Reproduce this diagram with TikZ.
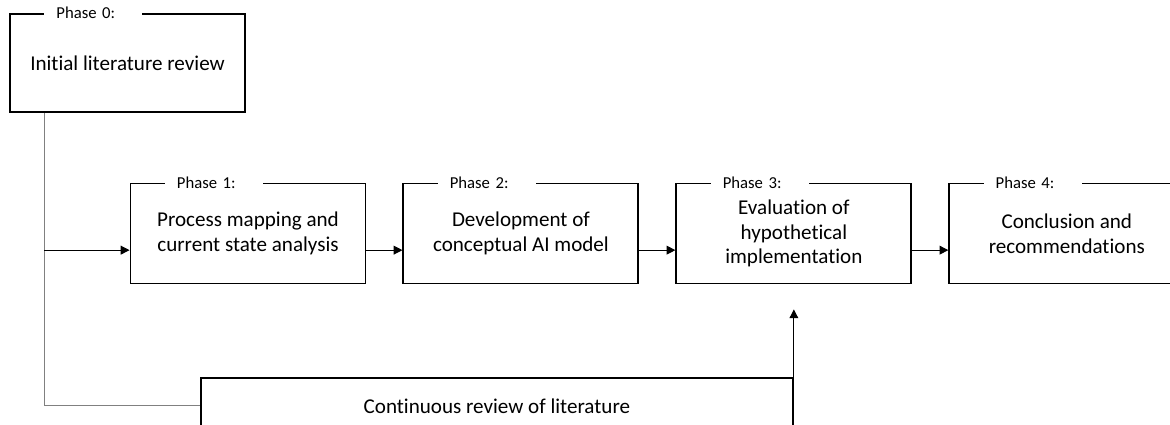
\documentclass[tikz,border=0pt]{standalone}
\usepackage{fontspec}
\setmainfont{Carlito}[Ligatures=NoCommon]
\usetikzlibrary{positioning,arrows.meta}
\tikzset{
  phase/.style={draw,line width=1.1pt,minimum width=4.7cm,minimum height=2cm,
    align=center,inner sep=0pt,font=\fontsize{12}{14}\selectfont},
  tag/.style={fill=white,anchor=west,inner xsep=0.24cm,inner ysep=1pt,
    text width=1.48cm,align=left,font=\fontsize{9.5}{11}\selectfont},
  flow/.style={-{Triangle[length=5pt,width=5pt]},line width=0.6pt},
  trunk line/.style={draw=black!50,line width=0.6pt},
}

\begin{document}
\begin{tikzpicture}
  \useasboundingbox (0,0) rectangle (23.4,-8.5);
  \clip (0,0) rectangle (23.4,-8.5);

  % Boxes
  \node[phase,minimum height=1.96cm] (p0) at (2.55,-1.26) {Initial literature review};
  \node[phase] (p1) at (4.96,-4.67) {Process mapping and\\current state analysis};
  \node[phase,right=0.72cm of p1] (p2) {Development of\\conceptual AI model};
  \node[phase,right=0.72cm of p2] (p3) {Evaluation of\\hypothetical\\implementation};
  \node[phase,right=0.72cm of p3] (p4) {Conclusion and\\recommendations};
  \node[phase,minimum width=11.84cm,minimum height=1.1cm,anchor=north east]
    (review) at ([yshift=-1.86cm]p3.south) {Continuous review of literature};

  % Phase tags
  \foreach \n in {0,...,4}
    \node[tag] (t\n) at ([xshift=0.7cm]p\n.north west) {Phase \n:};

  % Connectors
  \coordinate (trunk) at ([xshift=0.7cm]p0.south west);
  \coordinate (p3in) at ([yshift=-0.5cm]p3.south);
  \draw[trunk line] (trunk) |- (review.west);
  \draw[flow] (trunk |- p1.-172) -- (p1.-172);
  \draw[flow] (p1.-8) -- (p2.-172);
  \draw[flow] (p2.-8) -- (p3.-172);
  \draw[flow] (p3.-8) -- (p4.-172);
  \draw[flow] (review.north east) -- (p3in);
\end{tikzpicture}
\end{document}
